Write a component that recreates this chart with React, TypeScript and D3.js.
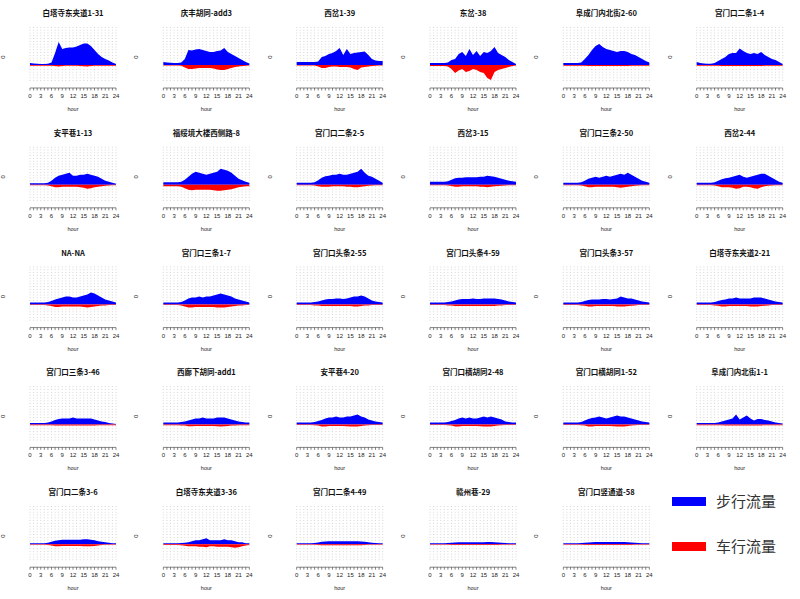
import * as d3 from 'd3'

const width = 800
const height = 599
const cols = 6
const panelW = width / cols
const panelH = height / 5

const titles = [
  '白塔寺东夹道1-31', '庆丰胡同-add3', '西岔1-39', '东岔-38', '阜成门内北街2-60', '宫门口二条1-4',
  '安平巷1-13', '福绥境大楼西侧路-8', '宫门口二条2-5', '西岔3-15', '宫门口三条2-50', '西岔2-44',
  'NA-NA', '宫门口三条1-7', '宫门口头条2-55', '宫门口头条4-59', '宫门口头条3-57', '白塔寺东夹道2-21',
  '宫门口三条3-46', '西廊下胡同-add1', '安平巷4-20', '宫门口横胡同2-48', '宫门口横胡同1-52', '阜成门内北街1-1',
  '宫门口二条3-6', '白塔寺东夹道3-36', '宫门口二条4-49', '赣州巷-29', '宫门口竖通道-58',
]

const hours = [0, 1, 2, 3, 4, 5, 6, 7, 8, 9, 10, 11, 12, 13, 14, 15, 16, 17, 18, 19, 20, 21, 22, 23, 24]
const tickLabels = [0, 3, 6, 9, 12, 15, 18, 21, 24]

// 步行流量 (drawn above zero)
const walk = [
  [20, 15, 12, 10, 10, 12, 25, 120, 230, 160, 170, 175, 175, 185, 200, 215, 215, 190, 150, 110, 80, 60, 45, 25, 10],
  [30, 25, 22, 20, 20, 25, 60, 150, 145, 155, 160, 150, 140, 130, 130, 140, 145, 170, 130, 110, 90, 70, 50, 30, 15],
  [30, 30, 30, 30, 30, 30, 35, 80, 90, 110, 120, 140, 170, 100, 160, 110, 120, 125, 130, 135, 100, 60, 45, 40, 40],
  [20, 20, 20, 20, 20, 25, 50, 60, 110, 130, 90, 160, 100, 140, 90, 130, 120, 140, 180, 120, 100, 80, 50, 30, 10],
  [20, 20, 20, 20, 20, 25, 60, 100, 150, 190, 210, 180, 160, 150, 140, 130, 140, 140, 130, 110, 100, 80, 60, 40, 25],
  [30, 20, 15, 12, 12, 20, 40, 60, 80, 110, 120, 120, 165, 140, 120, 110, 120, 110, 130, 100, 80, 60, 50, 30, 10],
  [15, 15, 15, 15, 15, 20, 40, 70, 90, 100, 110, 120, 90, 90, 100, 100, 110, 100, 90, 80, 60, 40, 30, 20, 10],
  [25, 25, 25, 25, 25, 30, 50, 80, 110, 130, 120, 110, 100, 110, 120, 130, 160, 150, 140, 120, 90, 60, 45, 30, 20],
  [20, 20, 20, 20, 20, 25, 45, 70, 85, 90, 100, 100, 110, 100, 100, 110, 120, 130, 160, 120, 90, 80, 60, 40, 20],
  [30, 30, 30, 30, 30, 35, 50, 65, 70, 70, 75, 75, 75, 75, 80, 80, 90, 85, 80, 70, 60, 50, 40, 35, 30],
  [20, 20, 20, 20, 20, 25, 40, 60, 70, 80, 70, 80, 90, 80, 90, 100, 110, 100, 120, 100, 80, 60, 40, 30, 20],
  [20, 20, 20, 20, 20, 25, 40, 55, 65, 70, 80, 90, 100, 80, 70, 80, 90, 100, 110, 110, 90, 70, 50, 30, 20],
  [20, 20, 20, 20, 20, 25, 35, 50, 60, 70, 80, 80, 70, 70, 80, 90, 100, 120, 110, 90, 70, 50, 40, 30, 20],
  [20, 20, 20, 20, 20, 25, 40, 60, 70, 70, 80, 70, 80, 80, 90, 100, 110, 100, 90, 80, 60, 50, 40, 30, 20],
  [20, 20, 20, 20, 20, 25, 30, 40, 50, 55, 55, 60, 60, 55, 60, 70, 80, 80, 90, 80, 60, 40, 30, 25, 20],
  [20, 20, 20, 20, 20, 25, 30, 40, 50, 55, 55, 55, 60, 55, 55, 60, 60, 60, 60, 55, 50, 40, 30, 25, 20],
  [20, 20, 20, 20, 20, 25, 35, 45, 50, 50, 50, 55, 55, 50, 55, 60, 80, 70, 60, 60, 50, 40, 30, 25, 20],
  [20, 20, 20, 20, 20, 25, 35, 45, 50, 60, 60, 70, 60, 60, 60, 60, 70, 70, 70, 60, 50, 40, 30, 25, 20],
  [15, 15, 15, 15, 15, 20, 30, 45, 55, 60, 60, 60, 70, 60, 60, 60, 60, 60, 50, 40, 30, 25, 15, 10, 5],
  [20, 20, 20, 20, 20, 25, 30, 40, 50, 60, 60, 70, 60, 60, 60, 70, 70, 70, 60, 50, 40, 30, 25, 20, 20],
  [20, 20, 20, 20, 20, 25, 35, 45, 60, 70, 70, 80, 70, 70, 80, 80, 90, 100, 80, 70, 50, 40, 30, 25, 20],
  [20, 20, 20, 20, 20, 25, 35, 45, 60, 70, 60, 70, 60, 60, 70, 80, 70, 80, 70, 60, 50, 30, 25, 20, 20],
  [20, 20, 20, 20, 20, 25, 40, 55, 65, 70, 80, 70, 60, 70, 80, 90, 80, 80, 70, 60, 50, 40, 30, 25, 20],
  [15, 15, 15, 15, 15, 15, 20, 30, 40, 50, 60, 100, 50, 70, 90, 60, 40, 55, 55, 45, 40, 30, 20, 15, 10],
  [10, 10, 10, 10, 10, 15, 25, 35, 40, 45, 45, 45, 45, 45, 45, 50, 50, 45, 40, 30, 25, 20, 15, 10, 10],
  [10, 10, 10, 10, 10, 12, 15, 20, 30, 40, 40, 50, 60, 40, 40, 40, 40, 50, 40, 40, 30, 20, 20, 10, 10],
  [10, 10, 10, 10, 10, 12, 18, 25, 28, 30, 30, 30, 30, 30, 30, 30, 30, 30, 28, 25, 20, 15, 12, 10, 10],
  [10, 10, 10, 10, 10, 12, 15, 18, 20, 20, 20, 20, 20, 20, 20, 20, 22, 22, 20, 18, 15, 12, 10, 10, 10],
  [10, 10, 10, 10, 10, 12, 15, 18, 20, 22, 22, 22, 22, 22, 22, 22, 22, 22, 20, 18, 15, 12, 10, 10, 10],
]

// 车行流量 (drawn below zero)
const car = [
  [8, 8, 8, 8, 8, 8, 8, 10, 15, 10, 8, 8, 8, 8, 10, 12, 15, 10, 8, 8, 8, 8, 8, 8, 8],
  [5, 5, 5, 5, 5, 8, 25, 40, 40, 35, 30, 30, 30, 30, 35, 45, 50, 50, 40, 30, 20, 15, 10, 8, 5],
  [5, 5, 5, 5, 5, 5, 15, 30, 30, 20, 15, 15, 20, 20, 20, 25, 40, 50, 25, 20, 15, 10, 8, 5, 5],
  [10, 10, 10, 10, 10, 15, 40, 80, 55, 40, 70, 60, 40, 50, 70, 80, 130, 150, 70, 50, 40, 30, 20, 10, 5],
  [8, 8, 8, 8, 8, 8, 8, 10, 10, 10, 10, 10, 10, 10, 10, 10, 10, 10, 10, 8, 8, 8, 8, 8, 8],
  [8, 8, 8, 8, 8, 8, 8, 10, 10, 10, 10, 10, 10, 10, 10, 10, 10, 10, 10, 8, 8, 8, 8, 8, 8],
  [5, 5, 5, 5, 5, 8, 15, 25, 25, 20, 20, 20, 20, 20, 25, 30, 40, 35, 25, 20, 15, 10, 8, 5, 5],
  [15, 15, 15, 15, 15, 20, 35, 50, 55, 50, 50, 50, 50, 50, 55, 60, 60, 55, 50, 45, 35, 25, 20, 15, 15],
  [5, 5, 5, 5, 5, 8, 15, 20, 20, 20, 15, 15, 15, 15, 20, 20, 25, 25, 20, 15, 10, 8, 5, 5, 5],
  [5, 5, 5, 5, 5, 8, 12, 20, 20, 15, 15, 15, 15, 15, 20, 20, 25, 20, 15, 12, 10, 8, 5, 5, 5],
  [5, 5, 5, 5, 5, 8, 15, 25, 25, 20, 20, 20, 20, 20, 20, 25, 30, 25, 20, 15, 10, 8, 5, 5, 5],
  [5, 5, 5, 5, 5, 8, 15, 25, 25, 25, 30, 40, 35, 20, 20, 25, 35, 40, 25, 15, 10, 8, 5, 5, 5],
  [5, 5, 5, 5, 5, 8, 15, 25, 25, 20, 20, 20, 20, 20, 20, 25, 30, 25, 20, 15, 10, 8, 5, 5, 5],
  [5, 5, 5, 5, 5, 10, 20, 30, 30, 25, 25, 25, 25, 25, 25, 30, 30, 30, 25, 20, 15, 10, 8, 5, 5],
  [5, 5, 5, 5, 5, 8, 10, 15, 15, 15, 15, 15, 15, 15, 15, 15, 20, 20, 15, 10, 8, 5, 5, 5, 5],
  [5, 5, 5, 5, 5, 8, 10, 15, 15, 15, 15, 15, 15, 15, 15, 15, 15, 15, 15, 10, 8, 5, 5, 5, 5],
  [5, 5, 5, 5, 5, 8, 12, 18, 18, 15, 15, 15, 15, 15, 15, 18, 20, 18, 15, 12, 8, 5, 5, 5, 5],
  [5, 5, 5, 5, 5, 8, 12, 18, 18, 15, 15, 15, 15, 15, 15, 18, 20, 18, 15, 12, 8, 5, 5, 5, 5],
  [8, 8, 8, 8, 8, 8, 8, 10, 10, 10, 10, 10, 10, 10, 10, 10, 10, 10, 10, 8, 8, 8, 8, 8, 8],
  [8, 8, 8, 8, 8, 10, 12, 18, 18, 15, 15, 15, 15, 15, 15, 18, 20, 18, 15, 12, 10, 8, 8, 8, 8],
  [5, 5, 5, 5, 5, 8, 12, 20, 20, 15, 15, 15, 15, 15, 18, 20, 20, 20, 15, 12, 8, 5, 5, 5, 5],
  [5, 5, 5, 5, 5, 8, 12, 20, 20, 15, 15, 15, 15, 15, 18, 20, 20, 20, 15, 12, 8, 5, 5, 5, 5],
  [5, 5, 5, 5, 5, 8, 12, 20, 20, 15, 15, 15, 15, 15, 18, 20, 20, 20, 15, 12, 8, 5, 5, 5, 5],
  [8, 8, 8, 8, 8, 8, 8, 8, 10, 10, 10, 10, 10, 10, 10, 10, 10, 10, 10, 8, 8, 8, 8, 8, 8],
  [5, 5, 5, 5, 5, 8, 12, 20, 20, 18, 18, 18, 18, 18, 18, 20, 20, 20, 18, 12, 8, 5, 5, 5, 5],
  [8, 8, 8, 8, 8, 10, 15, 20, 20, 20, 25, 25, 30, 20, 20, 25, 25, 25, 25, 30, 35, 30, 20, 12, 8],
  [5, 5, 5, 5, 5, 5, 8, 10, 10, 10, 10, 10, 10, 10, 10, 10, 10, 10, 10, 8, 5, 5, 5, 5, 5],
  [5, 5, 5, 5, 5, 5, 8, 8, 8, 8, 8, 8, 8, 8, 8, 8, 8, 8, 8, 8, 5, 5, 5, 5, 5],
  [5, 5, 5, 5, 5, 5, 8, 8, 8, 8, 8, 8, 8, 8, 8, 8, 8, 8, 8, 8, 5, 5, 5, 5, 5],
]

const legendLabels = ['步行流量', '车行流量']
const legendColors = ['#0000ff', '#ff0000']

const x = d3.scaleLinear().domain([0, 24]).range([30, 116])
const y = d3.scaleLinear().domain([-180, 380]).range([83, 27])
const axisY = 88

const walkArea = d3.area<number>()
  .x((d, i) => x(hours[i]))
  .y0(y(0))
  .y1(d => y(d))

const carArea = d3.area<number>()
  .x((d, i) => x(hours[i]))
  .y0(y(0))
  .y1(d => y(-d))

function Panel({ i }: { i: number }) {
  const tx = (i % cols) * panelW
  const ty = Math.floor(i / cols) * panelH
  return (
    <g transform={`translate(${tx},${ty})`}>
      <text x={x(12)} y={16} textAnchor="middle" fontSize={7.5} fontWeight="bold"
        fontFamily="'Noto Sans CJK SC', sans-serif" fill="#111">{titles[i]}</text>
      {hours.map(h => (
        <line key={h} x1={x(h)} x2={x(h)} y1={y(380)} y2={y(-180)}
          stroke="#b8b8b8" strokeWidth={0.7} strokeDasharray="0.8,2" />
      ))}
      <path d={walkArea(walk[i]) || ''} fill="#0000ff" />
      <path d={carArea(car[i]) || ''} fill="#ff0000" />
      <line x1={x(0)} x2={x(24)} y1={axisY} y2={axisY} stroke="#333" strokeWidth={0.6} />
      {hours.map(h => (
        <line key={h} x1={x(h)} x2={x(h)} y1={axisY} y2={axisY + 2.5} stroke="#333" strokeWidth={0.6} />
      ))}
      {tickLabels.map(t => (
        <text key={t} x={x(t)} y={axisY + 10} textAnchor="middle" fontSize={6}
          fontFamily="'Liberation Sans', Arial, sans-serif" fill="#222">{t}</text>
      ))}
      <text x={x(12)} y={111} textAnchor="middle" fontSize={5.5}
        fontFamily="'Liberation Sans', Arial, sans-serif" fill="#222">hour</text>
      <text transform={`translate(5,${y(80)}) rotate(-90)`} textAnchor="middle" fontSize={6}
        fontFamily="'Liberation Sans', Arial, sans-serif" fill="#222">0</text>
    </g>
  )
}

export default function App() {
  return (
    <svg width={width} height={height} style={{ position: 'absolute', left: 0, top: 0, background: '#fff' }}>
      {titles.map((t, i) => <Panel key={t} i={i} />)}
      {legendLabels.map((l, i) => (
        <g key={l} transform={`translate(672,${497 + i * 45})`}>
          <rect x={0} y={0} width={34} height={9} fill={legendColors[i]} />
          <text x={44} y={10} fontSize={15} fontFamily="'Noto Sans CJK SC', sans-serif" fill="#333">{l}</text>
        </g>
      ))}
    </svg>
  )
}
